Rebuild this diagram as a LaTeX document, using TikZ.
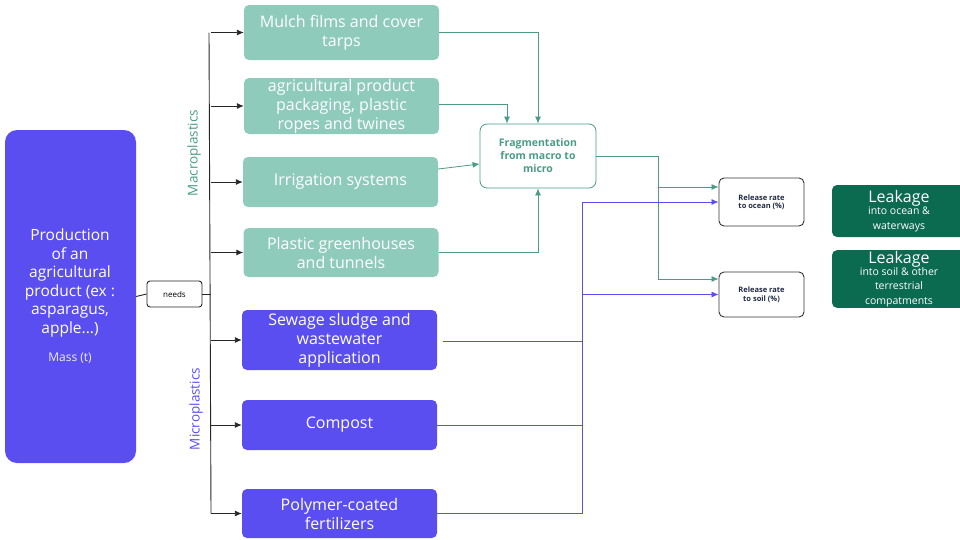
\documentclass[tikz,border=0pt]{standalone}
\usepackage{fontspec}
\setmainfont{Open Sans}
\usetikzlibrary{arrows.meta}

\definecolor{tealbox}{RGB}{143,203,187}
\definecolor{tealline}{RGB}{74,156,134}
\definecolor{prodblue}{RGB}{90,78,240}
\definecolor{leakgreen}{RGB}{11,107,80}
\definecolor{navy}{RGB}{31,42,68}

\tikzset{
  macrobox/.style={rectangle, rounded corners=5pt, fill=tealbox, text=white,
    align=center, minimum width=195pt, inner sep=1pt,
    font=\fontsize{16}{19}\selectfont},
  microbox/.style={macrobox, fill=prodblue},
  ratebox/.style={rectangle, rounded corners=5pt, draw=black!80, line width=0.9pt,
    fill=white, align=center, text=navy, minimum width=85pt,
    font=\fontsize{7.5}{8.5}\selectfont\bfseries},
  leakbox/.style={rectangle, rounded corners=5pt, fill=leakgreen, text=white,
    align=center, minimum width=134pt, inner sep=1pt},
  blackarrow/.style={-{Latex[length=7pt,width=6pt]}, line width=0.9pt, black!85},
  greenarrow/.style={-{Latex[length=7pt,width=6pt]}, line width=0.8pt, tealline},
  greenline/.style={line width=0.8pt, tealline},
  bluearrow/.style={-{Latex[length=7pt,width=6pt]}, line width=0.8pt, prodblue},
  blueline/.style={line width=0.8pt, prodblue}
}

\begin{document}
\begin{tikzpicture}[x=1pt, y=-1pt]
  % Fix the canvas
  \useasboundingbox (0,0) rectangle (960,539);

  % The product and what it needs
  \node[rectangle, rounded corners=12pt, fill=prodblue, text=white, align=center,
    minimum width=131pt, minimum height=333pt] (prod) at (70.5,296.5) {};
  \node[text=white, align=center, font=\fontsize{15.5}{18.5}\selectfont] (prodtxt) at (70,283)
    {Production\\of an\\agricultural\\product (ex :\\asparagus,\\apple...)};
  \node[text=white!90!prodblue, font=\fontsize{12}{14}\selectfont] (mass) at (70,358) {Mass (t)};
  \node[rectangle, rounded corners=3pt, draw=black!85, line width=0.9pt, fill=white,
    minimum width=55pt, minimum height=26pt, font=\fontsize{8}{9}\selectfont] (needs)
    at (174.5,294) {needs};

  % Macroplastic sources
  \node[macrobox, minimum height=55pt] (mulch) at (341.5,32.5) {Mulch films and cover\\tarps};
  \node[macrobox, minimum height=54pt] (pack) at (341.5,106) {agricultural product\\packaging, plastic\\ropes and twines};
  \node[macrobox, minimum height=50pt] (irrig) at (340.5,182) {Irrigation systems};
  \node[macrobox, minimum height=49pt] (greenh) at (341,252.5) {Plastic greenhouses\\and tunnels};

  % Microplastic sources
  \node[microbox, minimum height=60pt] (sewage) at (339.5,340) {Sewage sludge and\\wastewater\\application};
  \node[microbox, minimum height=50pt] (compost) at (339.5,425) {Compost};
  \node[microbox, minimum height=49pt] (polymer) at (339.5,513.5) {Polymer-coated\\fertilizers};

  % Group labels
  \node[rotate=90, text=tealline, font=\fontsize{13.5}{15}\selectfont] (macrolbl) at (194,153) {Macroplastics};
  \node[rotate=90, text=prodblue, font=\fontsize{13.5}{15}\selectfont] (microlbl) at (196,409) {Microplastics};

  % Fragmentation and release rates
  \node[rectangle, rounded corners=7pt, draw=tealline, line width=0.8pt, fill=white,
    text=tealline, align=center, minimum width=116pt, minimum height=64pt,
    font=\fontsize{10.5}{13}\selectfont\bfseries] (frag) at (538,156)
    {Fragmentation\\from macro to\\micro};
  \node[ratebox, minimum height=48pt] (ocean) at (761.5,202) {Release rate\\to ocean (\%)};
  \node[ratebox, minimum height=45pt] (soil) at (761.5,294.5) {Release rate\\to soil (\%)};

  % Leakage compartments
  \node[leakbox, minimum height=52pt] (leakocean) at (899,211)
    {{\fontsize{16}{17}\selectfont Leakage}\\[0pt]{\fontsize{10.5}{15}\selectfont into ocean \&}\\[3pt]{\fontsize{10.5}{15}\selectfont waterways}};
  \node[leakbox, minimum height=56pt] (leaksoil) at (899,279)
    {{\fontsize{16}{17}\selectfont Leakage}\\[0pt]{\fontsize{10.5}{14}\selectfont into soil \& other}\\[2.5pt]{\fontsize{10.5}{14}\selectfont terrestrial}\\[2.5pt]{\fontsize{10.5}{14}\selectfont compatments}};

  % Bus lines
  \coordinate (bus) at (211,0);
  \coordinate (mbus) at (582,0);
  \coordinate (split) at (658,156);
  \coordinate (sewout) at ([xshift=6pt,yshift=-1pt]sewage.east);

  % Product to the sources
  \draw[line width=0.9pt, black!85] (prod.east) -- (needs.west);
  \draw[line width=0.9pt, black!85] (needs.east) -- (bus |- needs.east);
  \draw[line width=0.9pt, black!85] ([xshift=-2pt]bus |- mulch.west) -- (bus |- polymer.west);
  \foreach \src in {mulch,pack,irrig,greenh,sewage,compost,polymer} {
    \draw[blackarrow] (bus |- \src.west) -- (\src.west);
  }

  % Macroplastics into fragmentation
  \draw[greenarrow] (mulch.east) -| (frag.north);
  \draw[greenarrow] ([yshift=2pt]pack.east) -| ([xshift=-31pt]frag.north);
  \draw[greenarrow] ([yshift=13pt]irrig.east) -- ([yshift=-8pt]frag.west);
  \draw[greenarrow] (greenh.east) -| (frag.south);

  % Fragmentation to release rates
  \draw[greenline] (frag.east) -- (split);
  \draw[greenarrow] (split) |- ([yshift=15pt]ocean.west);
  \draw[greenarrow] (split) |- ([yshift=15.5pt]soil.west);

  % Microplastics to release rates
  \draw[blueline] (sewout) -- (mbus |- sewout);
  \draw[blueline] (compost.east) -- (mbus |- compost.east);
  \draw[blueline] (polymer.east) -- (mbus |- polymer.east);
  \draw[blueline] (mbus |- polymer.east) -- (mbus |- ocean.west);
  \draw[bluearrow] (mbus |- ocean.west) -- (ocean.west);
  \draw[bluearrow] (mbus |- soil.west) -- (soil.west);

\end{tikzpicture}
\end{document}
